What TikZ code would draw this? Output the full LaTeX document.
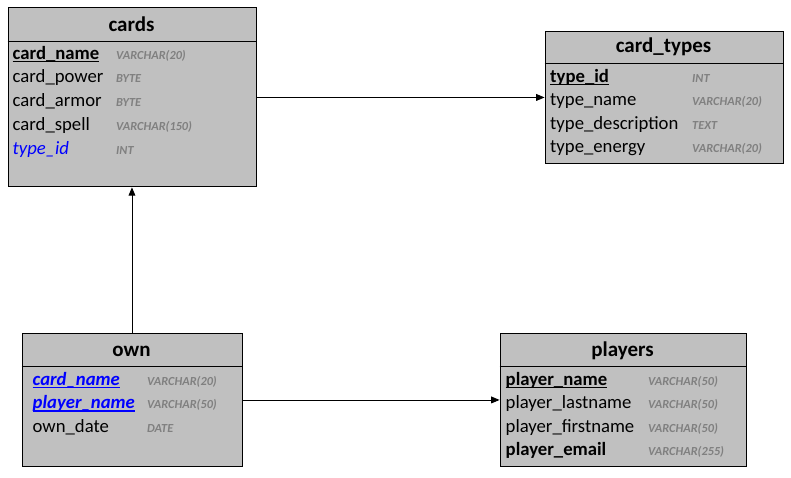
\documentclass[tikz,border=0pt]{standalone}
\usepackage{fontspec}
\setmainfont{Carlito}
\usetikzlibrary{arrows}
\definecolor{tblgray}{HTML}{C0C0C0}
\definecolor{typegray}{HTML}{808080}
\definecolor{fkblue}{HTML}{0000FF}
\newcommand{\pkline}[1]{\setbox0\hbox{#1}\rlap{\rule[-3pt]{\wd0}{1.2pt}}\box0}

\begin{document}
\begin{tikzpicture}[x=1pt,y=-1pt,
    table/.style={draw,line width=0.9pt,fill=tblgray,anchor=north west,inner sep=0pt},
    title/.style={anchor=base,inner sep=0pt,font=\fontsize{21}{24}\selectfont\bfseries},
    field/.style={anchor=base west,inner sep=0pt,font=\fontsize{18.7}{21}\selectfont},
    dtype/.style={anchor=base west,inner sep=0pt,text=typegray,font=\fontsize{12.3}{14}\selectfont\bfseries\itshape}]
      \useasboundingbox (0,0) rectangle (791,478);

      % tables
      \node[table,minimum width=248pt,minimum height=179pt] (cards)   at (7.5,7.5)   {};
      \node[table,minimum width=238pt,minimum height=132pt] (types)   at (544.5,31)  {};
      \node[table,minimum width=220pt,minimum height=133pt] (own)     at (21.5,333)  {};
      \node[table,minimum width=246pt,minimum height=133pt] (players) at (499.5,333) {};

      \draw[line width=0.9pt] ([yshift=-34.3pt]cards.north west)   -- ([yshift=-34.3pt]cards.north east);
      \draw[line width=0.9pt] ([yshift=-32.3pt]types.north west)   -- ([yshift=-32.3pt]types.north east);
      \draw[line width=0.9pt] ([yshift=-33pt]own.north west)       -- ([yshift=-33pt]own.north east);
      \draw[line width=0.9pt] ([yshift=-33pt]players.north west)   -- ([yshift=-33pt]players.north east);

      % cards
      \node[title] (cardsT)    at (131.5,32)  {cards};
      \node[field] (cname)     at (12.5,59.5) {\bfseries\pkline{card\_name}};
      \node[field] (cpower)    at (12.5,83)   {card\_power};
      \node[field] (carmor)    at (12.5,107)  {card\_armor};
      \node[field] (cspell)    at (12.5,131)  {card\_spell};
      \node[field] (ctype)     at (12.5,154.5){\color{fkblue}\itshape type\_id};
      \node[dtype] (cnameT)    at (116,59.5)  {VARCHAR(20)};
      \node[dtype] (cpowerT)   at (116,83)    {BYTE};
      \node[dtype] (carmorT)   at (116,107)   {BYTE};
      \node[dtype] (cspellT)   at (116,131)   {VARCHAR(150)};
      \node[dtype] (ctypeT)    at (116,154.5) {INT};

      % card_types
      \node[title] (typesT)    at (663.5,53)  {card\_types};
      \node[field] (tid)       at (550,82.5)  {\bfseries\pkline{type\_id}};
      \node[field] (tname)     at (550,106)   {type\_name};
      \node[field] (tdesc)     at (550,129.5) {type\_description};
      \node[field] (tenergy)   at (550,153)   {type\_energy};
      \node[dtype] (tidT)      at (692,82.5)  {INT};
      \node[dtype] (tnameT)    at (692,106)   {VARCHAR(20)};
      \node[dtype] (tdescT)    at (692,129.5) {TEXT};
      \node[dtype] (tenergyT)  at (692,153)   {VARCHAR(20)};

      % own
      \node[title] (ownT)      at (131.5,356) {own};
      \node[field] (ocard)     at (32.5,385)  {\color{fkblue}\bfseries\itshape\pkline{card\_name}};
      \node[field] (oplayer)   at (32.5,408.5){\color{fkblue}\bfseries\itshape\pkline{player\_name}};
      \node[field] (odate)     at (32.5,432)  {own\_date};
      \node[dtype] (ocardT)    at (147,385)   {VARCHAR(20)};
      \node[dtype] (oplayerT)  at (147,408.5) {VARCHAR(50)};
      \node[dtype] (odateT)    at (147,432)   {DATE};

      % players
      \node[title] (playersT)  at (622.5,356) {players};
      \node[field] (pname)     at (505.5,385) {\bfseries\pkline{player\_name}};
      \node[field] (plast)     at (505.5,408.5){player\_lastname};
      \node[field] (pfirst)    at (505.5,432) {player\_firstname};
      \node[field] (pmail)     at (505.5,455.5){\bfseries player\_email};
      \node[dtype] (pnameT)    at (648,385)   {VARCHAR(50)};
      \node[dtype] (plastT)    at (648,408.5) {VARCHAR(50)};
      \node[dtype] (pfirstT)   at (648,432)   {VARCHAR(50)};
      \node[dtype] (pmailT)    at (648,455.5) {VARCHAR(255)};

      \draw[->,line width=0.9pt,>=triangle 45] (cards) -- (types);
      \draw[->,line width=0.9pt,>=triangle 45] (own)   -- (cards);
      \draw[->,line width=0.9pt,>=triangle 45] (own)   -- (players);
  \end{tikzpicture}
\end{document}
